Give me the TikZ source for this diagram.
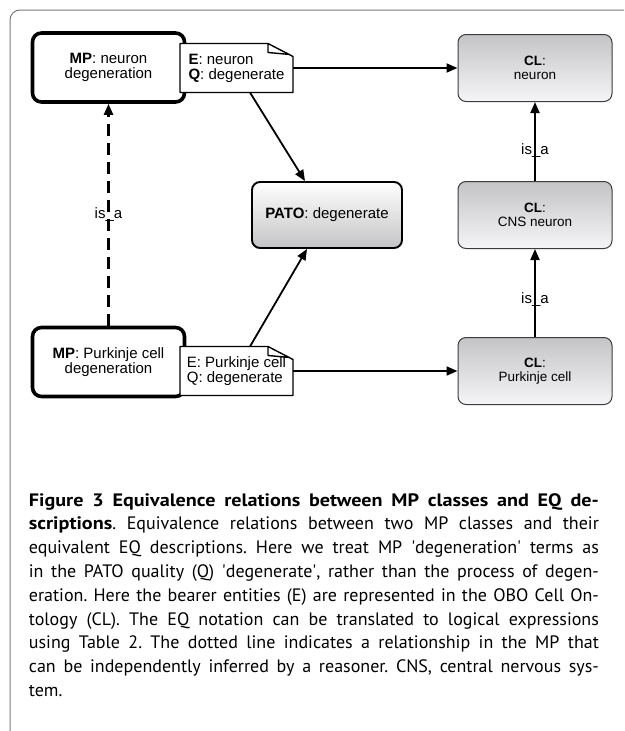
\documentclass[tikz,border=0pt]{standalone}
\usepackage{fontspec}
\setmainfont{Liberation Sans}
\newfontfamily\capfont{PT Sans}[BoldFeatures={FakeStretch=1.12}]
\usetikzlibrary{arrows.meta,shapes,positioning}
\definecolor{box_gray}{RGB}{196,196,198}
\definecolor{box_light}{RGB}{245,245,247}
\definecolor{edge_gray}{RGB}{60,60,60}
\definecolor{frame_gray}{RGB}{120,120,120}

\begin{document}
\frenchspacing
\begin{tikzpicture}[->,x=1pt,y=-1pt,line width=1.8pt,>={Triangle[length=11pt,width=9pt]}]
    \tikzstyle{relname}=[text=black,font=\fontsize{15}{15}\selectfont]
    \tikzstyle{mpclass}=[draw=black, line width=3.6pt, rounded corners=9pt, fill=white, minimum width=152pt, minimum height=69pt, align=center, font=\fontsize{15}{15}\selectfont]
    \tikzstyle{eqnote}=[draw=none, fill=white, outer sep=0pt, inner sep=3pt, minimum width=113pt, minimum height=49pt, align=left, font=\fontsize{15}{15}\selectfont]
    \tikzstyle{noteline}=[-, draw=black, line width=1.4pt, line join=round]
    \tikzstyle{patoclass}=[draw=black, line width=1.9pt, rounded corners=8pt, top color=white, bottom color=box_gray, minimum width=150pt, minimum height=66pt, font=\fontsize{15}{15}\selectfont]
    \tikzstyle{clclass}=[draw=edge_gray, line width=1pt, rounded corners=8pt, top color=box_gray, bottom color=box_light, minimum width=154pt, minimum height=67pt, align=center, font=\fontsize{13.5}{14.5}\selectfont]
    \tikzstyle{capline}=[anchor=base west, inner sep=0pt, font=\capfont\fontsize{18}{24}\selectfont]

    \useasboundingbox (0,0) rectangle (624,731);
    \draw[-, frame_gray, line width=1pt, rounded corners=10pt] (10,731) -- (10,10) -- (624,10);

    \node[mpclass] (mpN) at (108.5,67.5) {\textbf{MP}: neuron\\degeneration};
    \node[mpclass] (mpP) at (108.5,362)  {\textbf{MP}: Purkinje cell\\degeneration};
    \node[eqnote] (eqN) at (236.5,68)  {\textbf{E}: neuron\\\textbf{Q}: degenerate};
    \node[eqnote] (eqP) at (236.5,371) {E: Purkinje cell\\Q: degenerate};
    \node[patoclass] (pato) at (327,215) {\textbf{PATO}: degenerate};
    \node[clclass] (clN)   at (535,68)  {\textbf{CL}:\\neuron};
    \node[clclass] (clCNS) at (535,215) {\textbf{CL}:\\CNS neuron};
    \node[clclass] (clP)   at (535,371) {\textbf{CL}:\\Purkinje cell};

    % folded notes
    \draw[noteline] (eqN.north west) -- ([xshift=-25pt]eqN.north east) -- ([yshift=-13pt]eqN.north east) -- (eqN.south east) -- (eqN.south west) -- cycle
      ([xshift=-25pt]eqN.north east) -- ([xshift=-25pt,yshift=-9pt]eqN.north east) -- ([xshift=-3pt,yshift=-11pt]eqN.north east);
    \draw[noteline] (eqP.north west) -- ([xshift=-25pt]eqP.north east) -- ([yshift=-13pt]eqP.north east) -- (eqP.south east) -- (eqP.south west) -- cycle
      ([xshift=-25pt]eqP.north east) -- ([xshift=-25pt,yshift=-9pt]eqP.north east) -- ([xshift=-3pt,yshift=-11pt]eqP.north east);

    \path[every node/.style={relname}]
     (eqN) edge (clN)
     ([xshift=13.5pt]eqN.south) edge ([xshift=-22pt]pato.north)
     ([xshift=13.5pt]eqP.north) edge ([xshift=-20pt]pato.south)
     (eqP) edge (clP)
     (clCNS) edge node[pos=0.38] {is\_a} (clN)
     (clP) edge node[pos=0.43] {is\_a} (clCNS)
     (mpP) edge[line width=2.4pt, dash pattern=on 12pt off 7pt] node {is\_a} (mpN);

    \node[capline] (cap1) at (28,506) {\makebox[570pt][s]{\textbf{Figure 3 Equivalence relations between MP classes and EQ de-}}};
    \node[capline] (cap2) at (28,529.8) {\makebox[570pt][s]{\textbf{scriptions}. Equivalence relations between two MP classes and their}};
    \node[capline] (cap3) at (28,553.6) {\makebox[570pt][s]{equivalent EQ descriptions. Here we treat MP \textquotesingle degeneration\textquotesingle{} terms as}};
    \node[capline] (cap4) at (28,577.4) {\makebox[570pt][s]{in the PATO quality (Q) \textquotesingle degenerate\textquotesingle, rather than the process of degen-}};
    \node[capline] (cap5) at (28,601.2) {\makebox[570pt][s]{eration. Here the bearer entities (E) are represented in the OBO Cell On-}};
    \node[capline] (cap6) at (28,625) {\makebox[570pt][s]{tology (CL). The EQ notation can be translated to logical expressions}};
    \node[capline] (cap7) at (28,648.8) {\makebox[570pt][s]{using Table 2. The dotted line indicates a relationship in the MP that}};
    \node[capline] (cap8) at (28,672.6) {\makebox[570pt][s]{can be independently inferred by a reasoner. CNS, central nervous sys-}};
    \node[capline] (cap9) at (28,696.4) {tem.};
\end{tikzpicture}
\end{document}
